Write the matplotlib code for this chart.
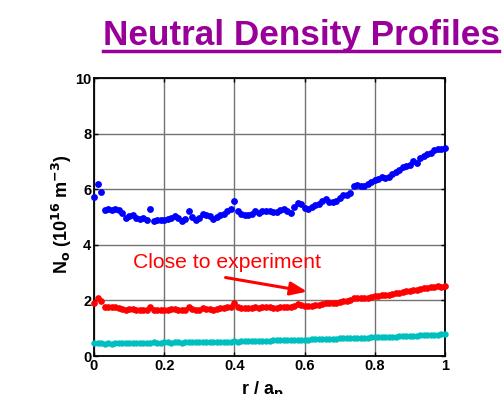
import numpy as np
import matplotlib
matplotlib.use("Agg")
import matplotlib.pyplot as plt

plt.rcParams['font.family'] = ['Liberation Sans', 'DejaVu Sans']

title = "Neutral Density Profiles"
xlabel = "r / a$_\\mathbf{p}$"
ylabel = "N$_\\mathbf{o}$ (10$^\\mathbf{16}$ m$^\\mathbf{-3}$)"
annot_text = "Close to experiment"

r = np.linspace(0.0, 1.0, 101)

blue = [5.72, 6.19, 5.89, 5.26, 5.27, 5.26, 5.27, 5.25, 5.15, 4.95,
        5.05, 5.08, 4.95, 4.93, 4.98, 4.88, 5.27, 4.85, 4.88, 4.90,
        4.88, 4.93, 4.98, 5.03, 4.96, 4.86, 4.92, 5.20, 5.00, 4.88,
        4.95, 5.10, 5.08, 5.02, 4.93, 5.00, 5.08, 5.12, 5.22, 5.28,
        5.58, 5.20, 5.12, 5.08, 5.08, 5.10, 5.22, 5.15, 5.22, 5.23,
        5.22, 5.18, 5.18, 5.25, 5.28, 5.22, 5.16, 5.35, 5.52, 5.48,
        5.33, 5.30, 5.35, 5.42, 5.48, 5.58, 5.65, 5.55, 5.55, 5.58,
        5.70, 5.78, 5.80, 5.88, 6.12, 6.15, 6.10, 6.12, 6.18, 6.25,
        6.32, 6.38, 6.45, 6.42, 6.45, 6.55, 6.62, 6.68, 6.80, 6.85,
        6.88, 7.02, 6.95, 7.12, 7.18, 7.25, 7.32, 7.42, 7.45, 7.43,
        7.48]

red = [1.90, 2.07, 1.98, 1.76, 1.75, 1.75, 1.76, 1.74, 1.70, 1.66,
       1.68, 1.70, 1.66, 1.65, 1.67, 1.64, 1.78, 1.64, 1.65, 1.66,
       1.65, 1.67, 1.68, 1.69, 1.67, 1.64, 1.67, 1.77, 1.70, 1.65,
       1.67, 1.71, 1.70, 1.69, 1.66, 1.69, 1.71, 1.72, 1.75, 1.78,
       1.90, 1.75, 1.72, 1.71, 1.71, 1.72, 1.75, 1.73, 1.75, 1.75,
       1.75, 1.74, 1.74, 1.76, 1.77, 1.76, 1.75, 1.80, 1.86, 1.85,
       1.80, 1.79, 1.80, 1.83, 1.85, 1.88, 1.91, 1.89, 1.89, 1.90,
       1.94, 1.97, 1.98, 2.00, 2.07, 2.08, 2.07, 2.08, 2.10, 2.12,
       2.15, 2.17, 2.19, 2.19, 2.20, 2.23, 2.26, 2.28, 2.31, 2.33,
       2.34, 2.38, 2.37, 2.41, 2.43, 2.45, 2.47, 2.50, 2.51, 2.50,
       2.52]

cyan = [0.48, 0.46, 0.45, 0.44, 0.45, 0.44, 0.45, 0.45, 0.46, 0.45,
        0.46, 0.46, 0.47, 0.46, 0.47, 0.48, 0.48, 0.49, 0.48, 0.48,
        0.49, 0.49, 0.48, 0.49, 0.49, 0.48, 0.49, 0.50, 0.49, 0.49,
        0.50, 0.50, 0.50, 0.51, 0.50, 0.51, 0.51, 0.52, 0.51, 0.52,
        0.53, 0.52, 0.53, 0.53, 0.53, 0.54, 0.54, 0.54, 0.55, 0.55,
        0.55, 0.56, 0.56, 0.56, 0.57, 0.57, 0.57, 0.58, 0.58, 0.58,
        0.59, 0.59, 0.60, 0.60, 0.60, 0.61, 0.61, 0.62, 0.62, 0.62,
        0.63, 0.63, 0.64, 0.64, 0.65, 0.65, 0.65, 0.66, 0.66, 0.67,
        0.67, 0.68, 0.68, 0.69, 0.69, 0.70, 0.70, 0.71, 0.71, 0.72,
        0.72, 0.73, 0.73, 0.74, 0.75, 0.75, 0.76, 0.77, 0.77, 0.78,
        0.79]

xticks = [0, 0.2, 0.4, 0.6, 0.8, 1.0]
xticklabels = ["0", "0.2", "0.4", "0.6", "0.8", "1"]
yticks = [0, 2, 4, 6, 8, 10]
yticklabels = ["0", "2", "4", "6", "8", "10"]

fig = plt.figure(figsize=(5.03, 3.94), dpi=100)
ax = fig.add_axes([94/503, 38/394, 351/503, 278/394])

ax.plot(r, cyan, 'o', color='#00BFBF', ms=3.6, mec='#00BFBF', zorder=3, clip_on=False)
ax.plot(r, red, 'o', color='#FF0000', ms=3.8, mec='#FF0000', zorder=3, clip_on=False)
ax.plot(r, blue, 'o', color='#0000FF', ms=3.9, mec='#0000FF', zorder=3, clip_on=False)

ax.set_xlim(0, 1)
ax.set_ylim(0, 10)
ax.set_xticks(xticks)
ax.set_xticklabels(xticklabels, fontsize=10.5, fontweight='bold')
ax.set_yticks(yticks)
ax.set_yticklabels(yticklabels, fontsize=10.5, fontweight='bold')
ax.tick_params(direction='in', length=3, width=1, top=True, right=True, pad=2)
ax.grid(True, color='0.45', lw=1.0, zorder=0)
ax.set_axisbelow(True)
for s in ax.spines.values():
    s.set_linewidth(1.3)

ax.annotate("", xy=(0.615, 2.30), xytext=(0.367, 2.84),
            arrowprops=dict(arrowstyle='-|>,head_length=1.0,head_width=0.4',
                            color='#FF0000', lw=2.2), zorder=5)
ax.text(0.111, 3.17, annot_text, color='#FF0000', fontsize=15.2,
        ha='left', va='baseline', zorder=5)

fig.text(62/503, (394-214)/394, ylabel, rotation=90, ha='center', va='center',
         fontsize=13, fontweight='bold')
fig.text(262/503, (394-380)/394, xlabel, ha='center', va='top',
         fontsize=13, fontweight='bold')

fig.text(301.5/503, (394-45)/394, title, ha='center', va='baseline',
         fontsize=25.3, fontweight='bold', color='#990099')
fig.add_artist(plt.Line2D([103/503, 499/503], [(394-51)/394, (394-51)/394],
                          color='#990099', lw=2.5, transform=fig.transFigure))

fig.savefig("out.png", dpi=100)
